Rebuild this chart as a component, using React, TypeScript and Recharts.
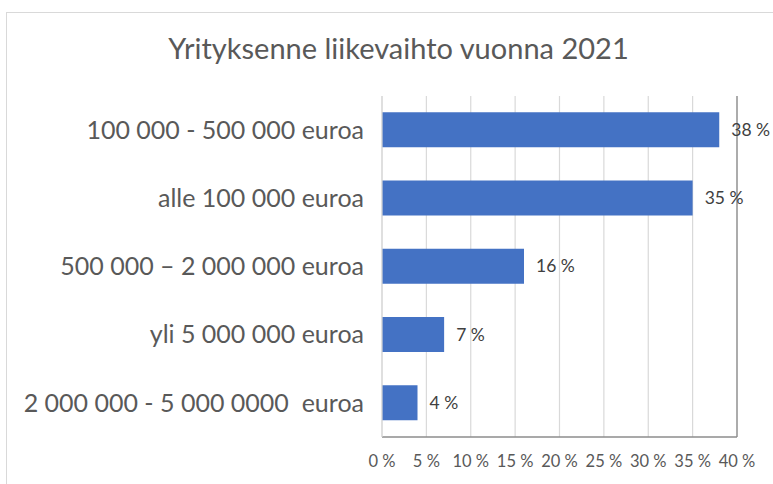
import React from 'react';
import { BarChart, Bar, XAxis, YAxis, CartesianGrid, LabelList, ReferenceLine } from 'recharts';

const categories = [
  '100 000 - 500 000 euroa',
  'alle 100 000 euroa',
  '500 000 – 2 000 000 euroa',
  'yli 5 000 000 euroa',
  '2 000 000 - 5 000 0000  euroa',
];
const values = [38, 35, 16, 7, 4];
const xTicks = [0, 5, 10, 15, 20, 25, 30, 35, 40];
const title = 'Yrityksenne liikevaihto vuonna 2021';

const data = categories.map((name, i) => ({ name, value: values[i] }));

const FONT = 'Lato, "Open Sans", sans-serif';
const TEXT = '#595959';

const YTick = (props: any) => {
  const { x, y, payload } = props;
  return (
    <text x={x} y={y} dy="0.35em" textAnchor="end" fill={TEXT} fontSize={25} fontFamily={FONT} style={{ whiteSpace: 'pre' }}>
      {payload.value}
    </text>
  );
};

const XTick = (props: any) => {
  const { x, y, payload } = props;
  return (
    <text x={x} y={y} dy="0.71em" textAnchor="middle" fill={TEXT} fontSize={16.5} fontFamily={FONT}>
      {`${payload.value} %`}
    </text>
  );
};

export default function App() {
  return (
    <div style={{ position: 'absolute', left: 0, top: 0, width: 773, height: 484, overflow: 'hidden', background: '#fff' }}>
      <div style={{ position: 'absolute', left: 6, top: 12, width: 900, height: 600, border: '1px solid #d9d9d9' }} />
      <div style={{ position: 'absolute', left: 0, top: 29, width: 797, textAlign: 'center', fontFamily: FONT, fontSize: 29, color: TEXT, lineHeight: '38px' }}>
        {title}
      </div>
      <div style={{ position: 'absolute', left: 0, top: 0 }}>
        <BarChart width={773} height={484} data={data} layout="vertical" barCategoryGap="24%"
          margin={{ top: 96, right: 36, bottom: 17, left: 0 }}>
          <CartesianGrid horizontal={false} vertical={true} stroke="#d9d9d9" strokeWidth={1.2} />
          <XAxis type="number" domain={[0, 40]} ticks={xTicks} interval={0} tick={<XTick />} tickLine={false}
            axisLine={{ stroke: '#8c8c8c', strokeWidth: 1.3 }} height={30} tickMargin={12} />
          <XAxis xAxisId="top" orientation="top" type="number" domain={[0, 40]} tick={false} tickLine={false}
            axisLine={{ stroke: '#8c8c8c', strokeWidth: 1.3 }} height={0} />
          <YAxis type="category" dataKey="name" width={382} tick={<YTick />} tickLine={false}
            axisLine={{ stroke: '#d9d9d9', strokeWidth: 1.2 }} tickMargin={12} interval={0} />
          <ReferenceLine x={40} stroke="#8c8c8c" strokeWidth={1.3} />
          <Bar dataKey="value" fill="#4472C4" isAnimationActive={false}>
            <LabelList dataKey="value" position="right" offset={12} formatter={(v: any) => `${v} %`}
              fill="#404040" fontSize={17.5} fontFamily={FONT} />
          </Bar>
        </BarChart>
      </div>
    </div>
  );
}
